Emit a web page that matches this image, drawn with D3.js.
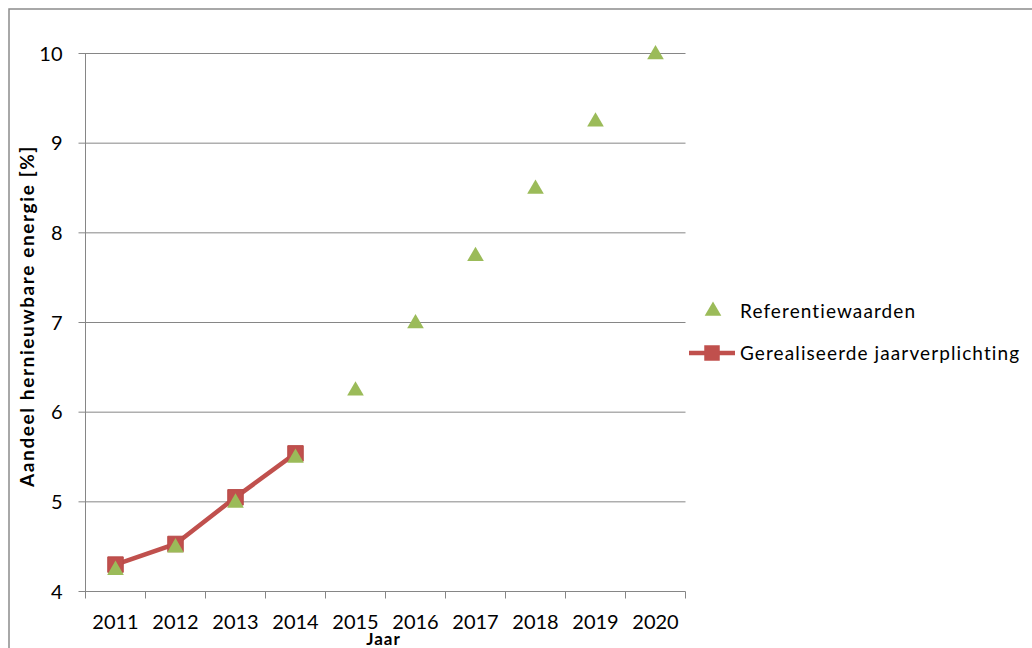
<!DOCTYPE html>
<meta charset="utf-8">
<script src="https://d3js.org/d3.v7.min.js"></script>
<style>
    body { margin: 0; background: #fff; }
    text { font-family: "Lato", "Open Sans", sans-serif; fill: #000; }
</style>
<div id="my_dataviz"></div>
<script>

    // data
    const years = ["2011", "2012", "2013", "2014", "2015", "2016", "2017", "2018", "2019", "2020"];
    const referentie = [4.25, 4.5, 5.0, 5.5, 6.25, 7.0, 7.75, 8.5, 9.25, 10];
    const gerealiseerd = [4.3, 4.53, 5.05, 5.54];
    const yTicks = [4, 5, 6, 7, 8, 9, 10];

    const margin = { top: 53.5, left: 85.5 },
        width = 600,
        height = 538;

    const svg = d3.select("#my_dataviz")
        .append("svg")
        .attr("width", 1032)
        .attr("height", 648);

    // outer chart border
    svg.append("rect")
        .attr("x", 9).attr("y", 9)
        .attr("width", 1040).attr("height", 660)
        .attr("fill", "none")
        .attr("stroke", "#8c8c8c")
        .attr("stroke-width", 1.5);

    const g = svg.append("g")
        .attr("transform", `translate(${margin.left},${margin.top})`);

    const x = d3.scaleBand().domain(years).range([0, width]);
    const y = d3.scaleLinear().domain([4, 10]).range([height, 0]);

    // gridlines
    g.selectAll(".grid")
        .data(yTicks)
        .enter()
        .append("line")
        .attr("x1", -7).attr("x2", width)
        .attr("y1", d => y(d)).attr("y2", d => y(d))
        .attr("stroke", "#868686")
        .attr("stroke-width", 1);

    // y axis line
    g.append("line")
        .attr("x1", 0).attr("x2", 0)
        .attr("y1", 0).attr("y2", height)
        .attr("stroke", "#868686");

    // y tick labels
    g.selectAll(".ylab")
        .data(yTicks)
        .enter()
        .append("text")
        .attr("x", -23)
        .attr("y", d => y(d))
        .attr("dy", "0.36em")
        .attr("text-anchor", "end")
        .style("font-size", "20px")
        .text(d => d);

    // x axis with ticks at category boundaries
    const bounds = years.map(d => x(d)).concat([width]);
    g.selectAll(".xtick")
        .data(bounds)
        .enter()
        .append("line")
        .attr("x1", d => d).attr("x2", d => d)
        .attr("y1", height).attr("y2", height + 7)
        .attr("stroke", "#868686");

    g.selectAll(".xlab")
        .data(years)
        .enter()
        .append("text")
        .attr("x", d => x(d) + x.bandwidth() / 2)
        .attr("y", height + 37)
        .attr("text-anchor", "middle")
        .style("font-size", "20px")
        .text(d => d);

    // axis titles
    g.append("text")
        .attr("x", width / 2 - 2)
        .attr("y", height + 53)
        .attr("text-anchor", "middle")
        .style("font-size", "17px")
        .style("font-weight", "bold")
        .style("letter-spacing", "1px")
        .text("Jaar");

    g.append("text")
        .attr("transform", `translate(${34 - margin.left},${316 - margin.top})rotate(-90)`)
        .attr("text-anchor", "middle")
        .style("font-size", "19px")
        .style("font-weight", "bold")
        .style("letter-spacing", "1.6px")
        .text("Aandeel hernieuwbare energie [%]");

    const cx = d => x(d) + x.bandwidth() / 2;
    const tri = d3.symbol().type(d3.symbolTriangle).size(120);
    const sq = d3.symbol().type(d3.symbolSquare).size(240);

    // red line
    g.append("path")
        .datum(gerealiseerd)
        .attr("fill", "none")
        .attr("stroke", "#c0504d")
        .attr("stroke-width", 4.5)
        .attr("d", d3.line()
            .x((d, i) => cx(years[i]))
            .y(d => y(d)));

    g.selectAll(".sq")
        .data(gerealiseerd)
        .enter()
        .append("path")
        .attr("d", sq)
        .attr("transform", (d, i) => `translate(${cx(years[i])},${y(d)})`)
        .attr("fill", "#c0504d")
        .attr("stroke", "#b84a47");

    g.selectAll(".tri")
        .data(referentie)
        .enter()
        .append("path")
        .attr("d", tri)
        .attr("transform", (d, i) => `translate(${cx(years[i])},${y(d) + 1})`)
        .attr("fill", "#9bbb59");

    // legend
    const leg = svg.append("g");
    leg.append("path")
        .attr("d", tri)
        .attr("transform", "translate(713,311)")
        .attr("fill", "#9bbb59");
    leg.append("text")
        .attr("x", 740).attr("y", 311)
        .attr("dy", "0.36em")
        .style("font-size", "19px")
        .style("letter-spacing", "1.1px")
        .text("Referentiewaarden");

    leg.append("line")
        .attr("x1", 689).attr("x2", 735)
        .attr("y1", 353).attr("y2", 353)
        .attr("stroke", "#c0504d")
        .attr("stroke-width", 4.5);
    leg.append("path")
        .attr("d", sq)
        .attr("transform", "translate(712,353)")
        .attr("fill", "#c0504d");
    leg.append("text")
        .attr("x", 740).attr("y", 353)
        .attr("dy", "0.36em")
        .style("font-size", "19px")
        .style("letter-spacing", "1.1px")
        .text("Gerealiseerde jaarverplichting");

</script>
